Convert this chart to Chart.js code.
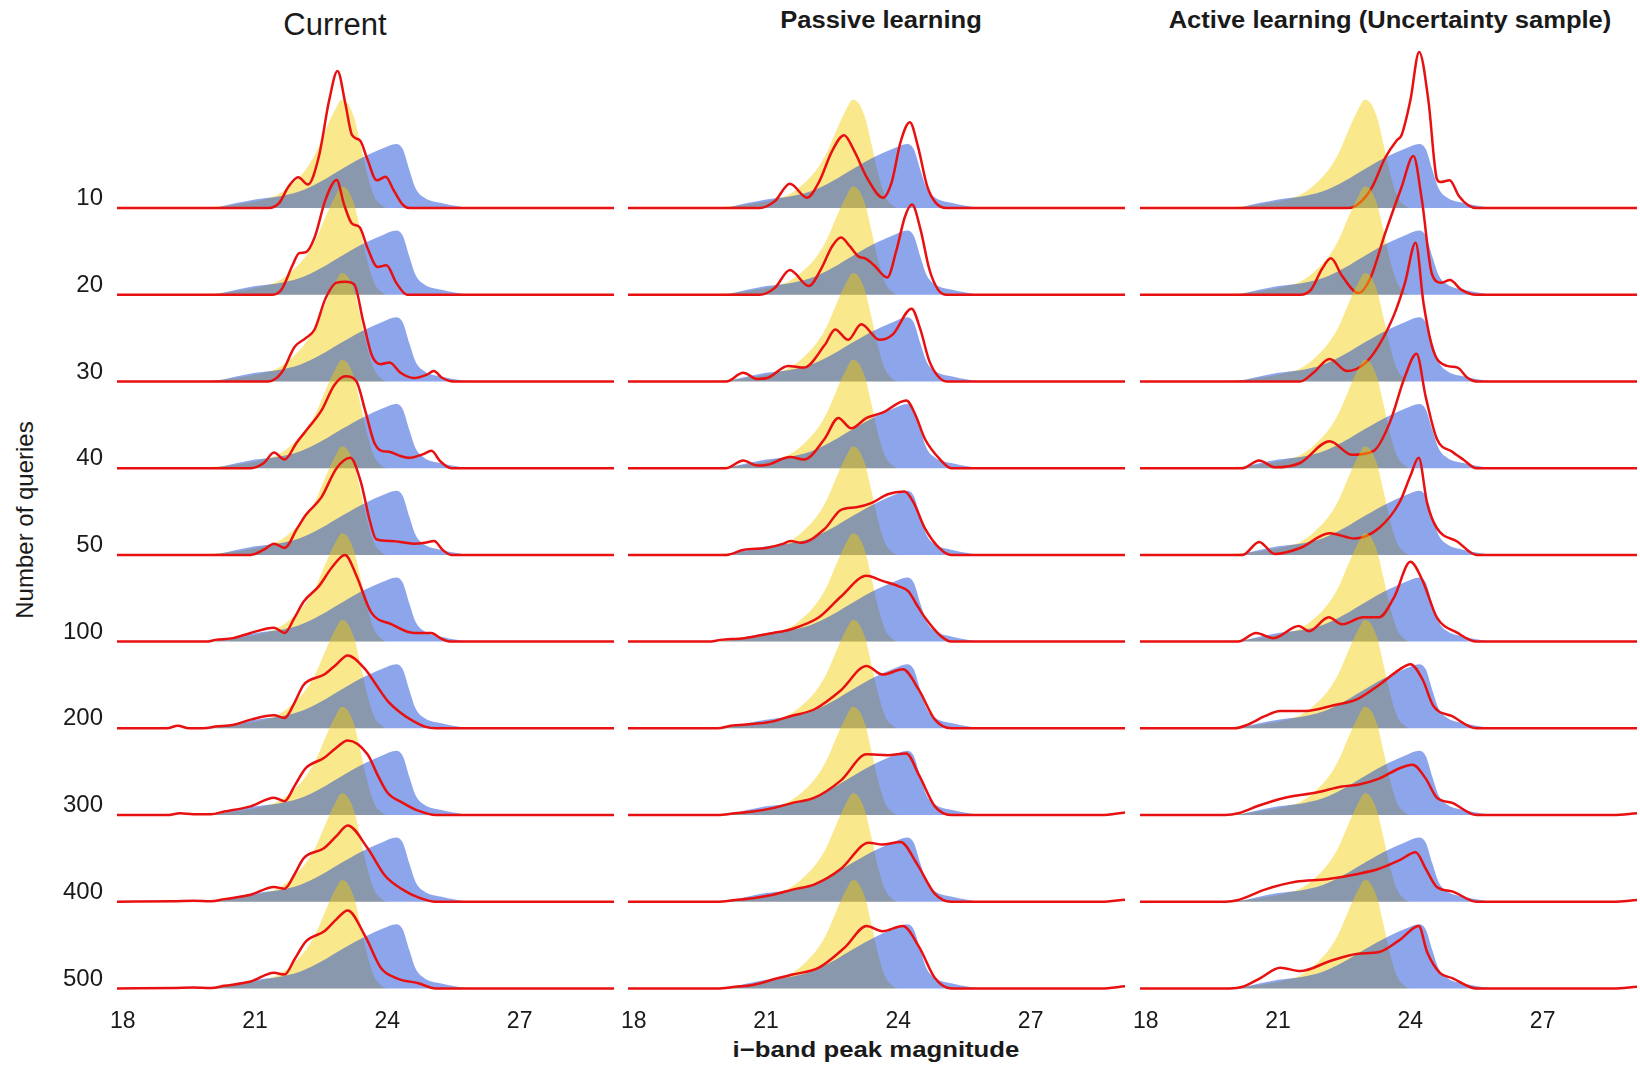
<!DOCTYPE html>
<html>
<head>
<meta charset="utf-8">
<title>Ridgeline – i-band peak magnitude</title>
<script src="https://cdn.jsdelivr.net/npm/chart.js@4.4.1/dist/chart.umd.min.js"></script>
<style>
  body { margin: 0; width: 1640px; height: 1066px; position: relative; background: #fff; overflow: hidden;
         font-family: "Liberation Sans", Arial, sans-serif; color: #1a1a1a; }
  canvas { position: absolute; top: 0; }
  .txt { position: absolute; white-space: nowrap; line-height: 1; }
  .head { font-size: 23px; font-weight: bold; transform: translateX(-50%) scaleX(1.11); top: 9px; }
</style>
</head>
<body>
<div class="txt" style="left:335px; top:9px; font-size:31px; transform:translateX(-50%);">Current</div>
<div class="txt head" style="left:881px;">Passive learning</div>
<div class="txt head" style="left:1390px;">Active learning (Uncertainty sample)</div>
<div class="txt" style="left:876px; top:1039px; font-size:22px; font-weight:bold; transform:translateX(-50%) scaleX(1.17);">i−band peak magnitude</div>
<div class="txt" style="left:25px; top:520px; font-size:24px; transform:translate(-50%,-50%) rotate(-90deg);">Number of queries</div>

<canvas id="current" width="616" height="1066" style="left:0px"></canvas>
<canvas id="passive" width="528" height="1066" style="left:600px"></canvas>
<canvas id="active" width="528" height="1066" style="left:1112px"></canvas>

<script>
// x axis (magnitude) and row labels
const xMin = 17.87, xMax = 29.14;
const xTicks = [18, 21, 24, 27];
const queryCounts = ['10', '20', '30', '40', '50', '100', '200', '300', '400', '500'];
const rowStep = 0.5;

// reference densities, same in every row: [magnitude, density]
const yellowDensity = [[17.87,0],[19.4,0],[19.9,0.005],[20.4,0.015],[20.8,0.03],[21.2,0.05],[21.5,0.075],[21.85,0.14],[22.2,0.24],[22.4,0.33],[22.6,0.45],[22.8,0.56],[22.97,0.625],[23.1,0.605],[23.25,0.52],[23.4,0.36],[23.55,0.19],[23.7,0.07],[23.85,0.02],[24.0,0],[29.14,0]];
const blueDensity = [[17.87,0],[19.6,0],[20.2,0.008],[20.6,0.03],[21.0,0.05],[21.5,0.065],[22.0,0.095],[22.5,0.155],[23.0,0.23],[23.5,0.3],[23.9,0.345],[24.2,0.37],[24.35,0.34],[24.5,0.22],[24.65,0.11],[24.85,0.058],[25.2,0.03],[25.6,0.01],[26.0,0],[29.14,0]];

// red curves, one per number of queries (top row first)
const currentCurves = [
  [[17.87,0],[21.3,0],[21.55,0.03],[21.75,0.12],[21.98,0.178],[22.2,0.136],[22.45,0.3],[22.68,0.62],[22.87,0.79],[23.05,0.6],[23.2,0.42],[23.38,0.39],[23.55,0.28],[23.76,0.16],[23.96,0.18],[24.15,0.1],[24.35,0.02],[24.5,0],[29.14,0]],
  [[17.87,0],[21.4,0],[21.6,0.03],[21.85,0.17],[22.0,0.24],[22.15,0.245],[22.35,0.33],[22.6,0.55],[22.85,0.662],[23.02,0.52],[23.2,0.41],[23.37,0.39],[23.55,0.27],[23.78,0.16],[23.98,0.17],[24.2,0.07],[24.45,0],[29.14,0]],
  [[17.87,0],[21.3,0],[21.6,0.05],[21.9,0.2],[22.15,0.25],[22.35,0.3],[22.6,0.48],[22.85,0.57],[23.05,0.575],[23.25,0.56],[23.45,0.35],[23.65,0.15],[23.85,0.1],[24.05,0.11],[24.3,0.05],[24.6,0.02],[24.9,0.04],[25.05,0.06],[25.25,0.02],[25.5,0],[29.14,0]],
  [[17.87,0],[20.9,0],[21.2,0.03],[21.43,0.09],[21.67,0.05],[21.95,0.15],[22.2,0.23],[22.5,0.33],[22.8,0.48],[23.05,0.53],[23.3,0.5],[23.5,0.33],[23.7,0.15],[23.87,0.1],[24.04,0.095],[24.3,0.07],[24.5,0.06],[24.8,0.08],[25.0,0.1],[25.2,0.04],[25.45,0],[29.14,0]],
  [[17.87,0],[20.9,0],[21.2,0.03],[21.43,0.065],[21.67,0.04],[21.95,0.15],[22.15,0.23],[22.5,0.33],[22.85,0.5],[23.16,0.56],[23.4,0.42],[23.6,0.2],[23.75,0.09],[24.1,0.08],[24.6,0.065],[24.85,0.07],[25.06,0.08],[25.25,0.03],[25.45,0],[29.14,0]],
  [[17.87,0],[19.9,0],[20.1,0.01],[20.5,0.02],[20.9,0.05],[21.43,0.08],[21.67,0.05],[21.9,0.14],[22.1,0.23],[22.45,0.32],[22.75,0.43],[23.04,0.5],[23.3,0.38],[23.63,0.17],[24.1,0.1],[24.6,0.05],[25.0,0.05],[25.2,0.02],[25.45,0],[29.14,0]],
  [[17.87,0],[19.0,0],[19.25,0.015],[19.5,0],[19.9,0.002],[20.1,0.01],[20.5,0.02],[20.9,0.05],[21.43,0.075],[21.67,0.06],[21.9,0.15],[22.1,0.25],[22.57,0.31],[22.85,0.37],[23.1,0.42],[23.5,0.34],[23.75,0.25],[24.0,0.16],[24.3,0.09],[24.6,0.04],[24.85,0.01],[25.1,0],[29.14,0]],
  [[17.87,0],[19.0,0],[19.3,0.01],[19.6,0.005],[20.0,0.005],[20.3,0.02],[20.9,0.05],[21.43,0.1],[21.67,0.08],[21.9,0.17],[22.15,0.27],[22.57,0.33],[22.85,0.39],[23.1,0.43],[23.55,0.35],[23.8,0.22],[24.0,0.13],[24.35,0.07],[24.7,0.025],[25.1,0],[29.14,0]],
  [[17.87,0],[19.2,0.003],[19.6,0.005],[20.0,0.003],[20.3,0.015],[20.9,0.04],[21.43,0.085],[21.67,0.075],[21.9,0.16],[22.1,0.25],[22.57,0.31],[22.85,0.38],[23.1,0.44],[23.55,0.31],[23.95,0.15],[24.35,0.07],[24.7,0.025],[25.1,0],[29.14,0]],
  [[17.87,0],[19.2,0.003],[19.6,0.005],[20.0,0.003],[20.3,0.015],[20.9,0.04],[21.43,0.09],[21.67,0.08],[21.9,0.17],[22.15,0.27],[22.57,0.33],[22.85,0.4],[23.1,0.45],[23.5,0.3],[23.85,0.12],[24.2,0.06],[24.7,0.03],[25.1,0],[29.14,0]]
];

const passiveCurves = [
  [[17.87,0],[20.85,0],[21.2,0.04],[21.54,0.14],[21.93,0.06],[22.2,0.15],[22.5,0.33],[22.77,0.42],[23.0,0.33],[23.3,0.17],[23.65,0.06],[23.85,0.15],[24.05,0.38],[24.26,0.495],[24.45,0.35],[24.65,0.13],[24.85,0.03],[25.1,0],[29.14,0]],
  [[17.87,0],[20.85,0],[21.2,0.04],[21.54,0.143],[21.97,0.05],[22.25,0.15],[22.5,0.28],[22.7,0.33],[22.9,0.28],[23.1,0.22],[23.25,0.21],[23.45,0.17],[23.75,0.1],[23.95,0.25],[24.15,0.45],[24.31,0.52],[24.5,0.38],[24.7,0.15],[24.9,0.03],[25.1,0],[29.14,0]],
  [[17.87,0],[20.1,0],[20.48,0.05],[20.8,0.015],[21.03,0.02],[21.5,0.09],[21.86,0.08],[22.33,0.21],[22.57,0.3],[22.86,0.24],[23.16,0.33],[23.57,0.24],[23.87,0.27],[24.3,0.42],[24.5,0.3],[24.7,0.12],[24.9,0.03],[25.1,0],[29.14,0]],
  [[17.87,0],[20.1,0],[20.48,0.045],[20.8,0.015],[21.03,0.02],[21.55,0.065],[21.86,0.05],[22.33,0.17],[22.64,0.29],[22.93,0.23],[23.28,0.29],[23.64,0.32],[24.18,0.39],[24.4,0.3],[24.6,0.17],[24.95,0.05],[25.2,0],[29.14,0]],
  [[17.87,0],[20.1,0],[20.5,0.03],[21.0,0.04],[21.4,0.065],[21.55,0.08],[21.8,0.07],[22.33,0.15],[22.7,0.26],[23.05,0.275],[23.4,0.3],[23.76,0.35],[24.14,0.365],[24.35,0.3],[24.6,0.155],[24.95,0.035],[25.2,0],[29.14,0]],
  [[17.87,0],[19.7,0],[19.97,0.01],[20.5,0.02],[21.16,0.05],[21.55,0.07],[22.2,0.14],[22.7,0.26],[23.28,0.38],[23.64,0.35],[24.0,0.32],[24.23,0.29],[24.4,0.22],[24.6,0.14],[24.95,0.035],[25.2,0],[29.14,0]],
  [[17.87,0],[19.9,0],[20.2,0.015],[20.7,0.025],[21.16,0.04],[21.55,0.07],[22.1,0.11],[22.7,0.22],[23.28,0.36],[23.64,0.31],[24.1,0.34],[24.47,0.22],[24.83,0.05],[25.2,0],[29.14,0]],
  [[17.87,0],[19.9,0],[20.3,0.01],[20.7,0.02],[21.16,0.04],[21.6,0.07],[22.1,0.1],[22.7,0.2],[23.28,0.35],[23.76,0.345],[24.18,0.355],[24.47,0.23],[24.83,0.05],[25.2,0],[28.6,0],[29.14,0.015]],
  [[17.87,0],[19.9,0],[20.3,0.01],[20.7,0.02],[21.16,0.04],[21.6,0.07],[22.1,0.1],[22.7,0.19],[23.33,0.34],[23.64,0.33],[24.05,0.345],[24.42,0.22],[24.83,0.045],[25.2,0],[28.6,0],[29.14,0.012]],
  [[17.87,0],[19.9,0],[20.3,0.01],[20.7,0.02],[21.28,0.06],[21.6,0.08],[22.2,0.12],[22.8,0.24],[23.28,0.36],[23.64,0.33],[24.1,0.36],[24.47,0.24],[24.83,0.06],[25.2,0],[28.6,0],[29.14,0.012]]
];

const activeCurves = [
  [[17.87,0],[22.6,0],[22.85,0.03],[23.13,0.12],[23.43,0.29],[23.69,0.39],[23.8,0.42],[24.0,0.62],[24.2,0.9],[24.41,0.62],[24.6,0.17],[24.68,0.15],[24.89,0.16],[25.1,0.07],[25.32,0.015],[25.5,0],[29.14,0]],
  [[17.87,0],[21.5,0],[21.75,0.03],[22.0,0.15],[22.2,0.21],[22.45,0.11],[22.82,0.01],[23.1,0.1],[23.43,0.355],[23.8,0.62],[24.07,0.8],[24.26,0.55],[24.49,0.12],[24.7,0.07],[24.9,0.085],[25.15,0.03],[25.5,0],[29.14,0]],
  [[17.87,0],[21.5,0],[21.8,0.05],[22.17,0.13],[22.57,0.06],[22.95,0.1],[23.29,0.21],[23.64,0.39],[23.88,0.57],[24.12,0.8],[24.3,0.45],[24.52,0.18],[24.83,0.09],[25.07,0.08],[25.3,0.02],[25.5,0],[29.14,0]],
  [[17.87,0],[20.2,0],[20.57,0.045],[20.93,0.005],[21.5,0.03],[22.17,0.155],[22.68,0.077],[23.17,0.1],[23.53,0.26],[23.88,0.53],[24.14,0.66],[24.35,0.41],[24.6,0.17],[24.95,0.095],[25.2,0.05],[25.5,0],[29.14,0]],
  [[17.87,0],[20.2,0],[20.57,0.075],[20.93,0.005],[21.5,0.04],[22.17,0.125],[22.74,0.095],[23.29,0.155],[23.76,0.305],[24.0,0.455],[24.19,0.56],[24.38,0.3],[24.6,0.155],[25.07,0.076],[25.5,0],[29.14,0]],
  [[17.87,0],[20.1,0],[20.5,0.05],[20.9,0.02],[21.47,0.09],[21.7,0.06],[22.15,0.14],[22.45,0.1],[22.93,0.14],[23.29,0.14],[23.64,0.26],[24.0,0.46],[24.28,0.35],[24.6,0.14],[25.07,0.05],[25.5,0],[29.14,0]],
  [[17.87,0],[20.0,0],[20.3,0.02],[20.7,0.07],[21.05,0.1],[21.63,0.1],[22.22,0.13],[22.81,0.17],[23.29,0.25],[23.76,0.34],[24.0,0.37],[24.28,0.28],[24.52,0.13],[24.95,0.07],[25.5,0],[29.14,0]],
  [[17.87,0],[19.8,0],[20.1,0.01],[20.57,0.055],[21.16,0.1],[21.87,0.13],[22.45,0.165],[22.81,0.175],[23.29,0.21],[23.76,0.27],[24.05,0.29],[24.35,0.21],[24.6,0.1],[24.95,0.07],[25.5,0],[28.6,0],[29.14,0.01]],
  [[17.87,0],[19.8,0],[20.1,0.01],[20.7,0.07],[21.4,0.115],[22.1,0.13],[22.81,0.16],[23.29,0.19],[23.76,0.24],[24.12,0.285],[24.35,0.19],[24.6,0.085],[24.95,0.06],[25.5,0],[28.6,0],[29.14,0.01]],
  [[17.87,0],[19.9,0],[20.2,0.01],[20.6,0.06],[21.05,0.12],[21.5,0.1],[22.2,0.16],[22.81,0.2],[23.29,0.21],[23.76,0.28],[24.19,0.36],[24.38,0.21],[24.67,0.09],[24.95,0.06],[25.5,0],[28.6,0],[29.14,0.01]]
];

const yellowFill = 'rgba(245, 205, 0, 0.45)';
const blueFill = 'rgba(0, 55, 210, 0.45)';
const redLine = 'rgb(232, 16, 16)';
const labelFont = { family: 'Liberation Sans', size: 23 };

function rowBase(r) {
    return (queryCounts.length - 1 - r) * rowStep;
}

function shift(points, base) {
    return points.map(p => ({ x: p[0], y: p[1] + base }));
}

// rows are stacked top to bottom, lower rows painted over upper ones
function buildDatasets(curves) {
    const sets = [];
    queryCounts.forEach((q, r) => {
        const base = rowBase(r);
        const order = 100 - r * 3;
        sets.push({ label: q, data: shift(yellowDensity, base), fill: { value: base },
                    backgroundColor: yellowFill, borderWidth: 0, order: order });
        sets.push({ label: q, data: shift(blueDensity, base), fill: { value: base },
                    backgroundColor: blueFill, borderWidth: 0, order: order - 1 });
        sets.push({ label: q, data: shift(curves[r], base), fill: false,
                    borderColor: redLine, borderWidth: 2.5, order: order - 2 });
    });
    return sets;
}

function makePanel(id, curves, showRows, padLeft, padRight) {
    const yAxis = {
        display: showRows,
        min: -0.032,
        max: 5.498,
        grid: { display: false, drawTicks: false },
        border: { display: false },
        afterBuildTicks: s => { s.ticks = queryCounts.map((q, r) => ({ value: rowBase(r) })); },
        ticks: {
            autoSkip: false,
            padding: 14,
            labelOffset: -9.5,
            color: '#1a1a1a',
            font: { family: 'Liberation Sans', size: 24 },
            callback: v => queryCounts[queryCounts.length - 1 - Math.round(v / rowStep)]
        }
    };
    if (showRows) {
        yAxis.afterFit = s => { s.width = 117; };
    }

    return new Chart(document.getElementById(id), {
        type: 'line',
        data: { datasets: buildDatasets(curves) },
        options: {
            responsive: false,
            animation: false,
            events: [],
            layout: { padding: { top: 35, bottom: 0, left: padLeft, right: padRight } },
            elements: {
                point: { radius: 0, hoverRadius: 0 },
                line: { cubicInterpolationMode: 'monotone' }
            },
            plugins: { legend: { display: false }, tooltip: { enabled: false } },
            scales: {
                x: {
                    type: 'linear',
                    min: xMin,
                    max: xMax,
                    grid: { display: false, drawTicks: false },
                    border: { display: false },
                    afterBuildTicks: s => { s.ticks = xTicks.map(v => ({ value: v })); },
                    afterFit: s => { s.height = 72; },
                    ticks: { autoSkip: false, maxRotation: 0, padding: 14, color: '#1a1a1a', font: labelFont }
                },
                y: yAxis
            }
        }
    });
}

makePanel('current', currentCurves, true, 0, 2);
makePanel('passive', passiveCurves, false, 28, 3);
makePanel('active', activeCurves, false, 28, 3);
</script>
</body>
</html>
